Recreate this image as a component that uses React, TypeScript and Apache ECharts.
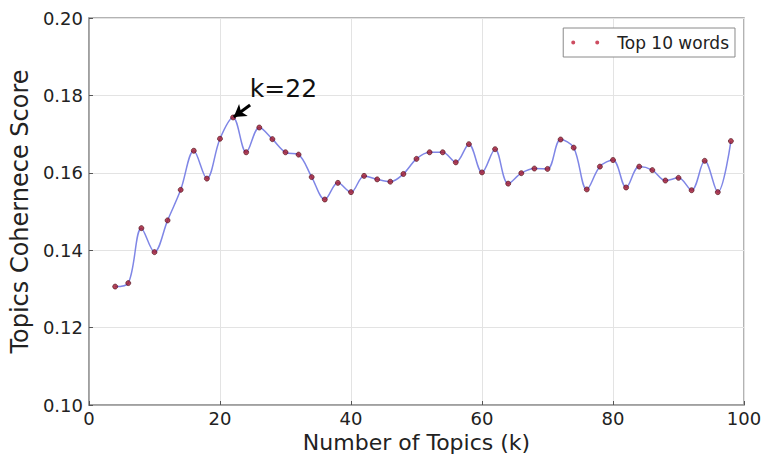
import React, { useEffect, useRef } from "react";
import * as echarts from "echarts";

const TOPICS_K = [4, 6, 8, 10, 12, 14, 16, 18, 20, 22, 24, 26, 28, 30, 32, 34, 36, 38, 40, 42, 44, 46, 48, 50, 52, 54, 56, 58, 60, 62, 64, 66, 68, 70, 72, 74, 76, 78, 80, 82, 84, 86, 88, 90, 92, 94, 96, 98];
const COHERENCE = [0.1306, 0.1315, 0.1457, 0.1395, 0.1477, 0.1556, 0.1657, 0.1585, 0.1688, 0.1743, 0.1653, 0.1717, 0.1687, 0.1653, 0.1647, 0.1589, 0.1531, 0.1574, 0.155, 0.1592, 0.1583, 0.1577, 0.1597, 0.1636, 0.1653, 0.1653, 0.1627, 0.1674, 0.1601, 0.1661, 0.1572, 0.1599, 0.1611, 0.161, 0.1686, 0.1665, 0.1557, 0.1616, 0.1633, 0.1562, 0.1616, 0.1607, 0.158, 0.1587, 0.1555, 0.1631, 0.155, 0.1682];
const X_TICKS = [0, 20, 40, 60, 80, 100];
const Y_TICKS = [0.1, 0.12, 0.14, 0.16, 0.18, 0.2];
const SERIES_NAME = "Top 10 words";
const BEST_K = 22;
const X_TITLE = "Number of Topics (k)";
const Y_TITLE = "Topics Cohernece Score";

export default function App() {
  const ref = useRef<HTMLDivElement>(null);
  useEffect(() => {
    document.body.style.margin = "0";
    const chart = echarts.init(ref.current!, null, { renderer: "svg" });
    const pts = TOPICS_K.map((k, i) => [k, COHERENCE[i]]);
    const bestVal = COHERENCE[TOPICS_K.indexOf(BEST_K)];
    const font = '"DejaVu Sans", sans-serif';
    chart.setOption({
      animation: false,
      backgroundColor: "#ffffff",
      grid: {
        left: 85.6,
        right: 22,
        top: 18,
        bottom: 56,
        show: true,
        borderColor: "#9a9a9a",
        borderWidth: 1.5,
      },
      legend: {
        data: [SERIES_NAME],
        right: 31,
        top: 28,
        orient: "horizontal",
        icon: "path://M2,2m-2,0a2,2 0 1,0 4,0a2,2 0 1,0 -4,0M26,2m-2,0a2,2 0 1,0 4,0a2,2 0 1,0 -4,0",
        itemWidth: 28,
        itemHeight: 4,
        itemGap: 10,
        padding: [6, 6, 6, 8],
        borderColor: "#8a8a8a",
        borderWidth: 1,
        borderRadius: 0,
        backgroundColor: "#ffffff",
        itemStyle: { color: "#c0203a", borderWidth: 0 },
        textStyle: { fontFamily: font, fontSize: 17, color: "#222", padding: [0, 0, 0, 13] },
      },
      xAxis: {
        type: "value",
        min: X_TICKS[0],
        max: X_TICKS[X_TICKS.length - 1],
        interval: X_TICKS[1] - X_TICKS[0],
        name: X_TITLE,
        nameLocation: "middle",
        nameGap: 22,
        nameTextStyle: { fontFamily: font, fontSize: 22, color: "#222" },
        axisLine: { show: true, lineStyle: { color: "#9a9a9a", width: 1.5 } },
        axisTick: { show: true, inside: true, length: 4, lineStyle: { color: "#555" } },
        axisLabel: { fontFamily: font, fontSize: 18, color: "#222", margin: 4 },
        splitLine: { show: true, lineStyle: { color: "#e3e3e3", width: 1 } },
      },
      yAxis: {
        type: "value",
        min: Y_TICKS[0],
        max: Y_TICKS[Y_TICKS.length - 1],
        interval: 0.02,
        name: Y_TITLE,
        nameLocation: "middle",
        nameGap: 51,
        nameTextStyle: { fontFamily: font, fontSize: 24, color: "#222" },
        axisLine: { show: true, lineStyle: { color: "#9a9a9a", width: 1.5 } },
        axisTick: { show: true, inside: true, length: 4, lineStyle: { color: "#555" } },
        axisLabel: {
          fontFamily: font,
          fontSize: 18,
          color: "#222",
          margin: 6,
          formatter: (v: number) => v.toFixed(2),
        },
        splitLine: { show: true, lineStyle: { color: "#e3e3e3", width: 1 } },
      },
      series: [
        {
          name: "curve",
          type: "line",
          data: pts,
          smooth: 0.35,
          showSymbol: false,
          symbol: "none",
          lineStyle: { color: "#7f86e6", width: 1.5 },
          z: 2,
          silent: true,
          markLine: {
            silent: true,
            symbol: ["none", "arrow"],
            symbolSize: [11, 12],
            label: { show: false },
            lineStyle: { color: "#000", width: 3, type: "solid" },
            data: [[{ coord: [BEST_K + 2.6, bestVal + 0.0032] }, { coord: [BEST_K + 0.1, bestVal + 0.0001] }]],
          },
          markPoint: {
            silent: true,
            data: [
              {
                coord: [BEST_K + 1.8, bestVal + 0.0075],
                symbol: "circle",
                symbolSize: 0,
                label: {
                  show: true,
                  position: "right",
                  distance: 5,
                  formatter: "k=" + BEST_K,
                  fontFamily: font,
                  fontSize: 25,
                  color: "#111",
                },
              },
            ],
          },
        },
        {
          name: SERIES_NAME,
          type: "scatter",
          data: pts,
          symbol: "circle",
          symbolSize: 5,
          itemStyle: { color: "#a3182e", borderColor: "#4a0a18", borderWidth: 0.8 },
          z: 3,
        },
      ],
    });
    return () => chart.dispose();
  }, []);
  return <div ref={ref} style={{ width: 766, height: 461 }} />;
}
